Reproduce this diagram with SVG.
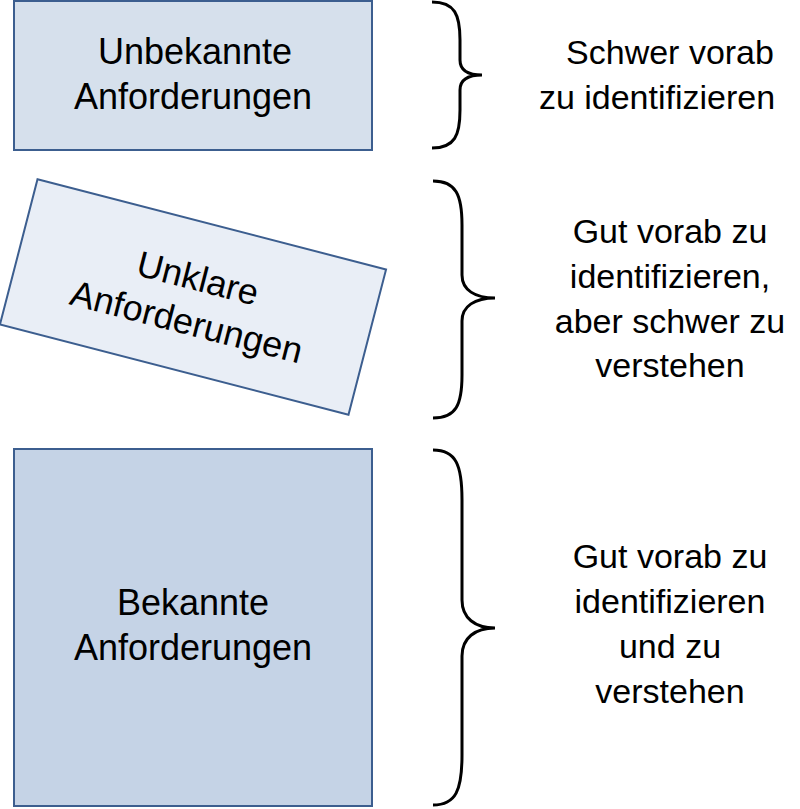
<svg xmlns="http://www.w3.org/2000/svg" width="800" height="809" viewBox="0 0 800 809">
<style>
.b{stroke:#3c5e8f;stroke-width:2}
.t{font-family:"Liberation Sans",Arial,sans-serif;font-size:34px;text-anchor:middle;fill:#000}
.n{font-size:36px}
.br{fill:none;stroke:#000;stroke-width:3}
</style>
<rect width="800" height="809" fill="#fff"/>
<g id="n1"><rect class="b" x="14" y="1" width="358" height="149" fill="#d6e0ec"/>
<text class="t n" x="195" y="64">Unbekannte</text><text class="t n" x="193" y="109">Anforderungen</text></g>
<g id="n2" transform="translate(193,297) rotate(14.5)"><rect class="b" x="-180" y="-75" width="360" height="150" fill="#e9eef6"/>
<text class="t n" x="0" y="-7">Unklare</text><text class="t n" x="0" y="38">Anforderungen</text></g>
<g id="n3"><rect class="b" x="14" y="449" width="358" height="357" fill="#c5d3e6"/>
<text class="t n" x="193" y="615">Bekannte</text><text class="t n" x="193" y="660">Anforderungen</text></g>
<g id="connectors">
<path class="br" d="M432,2 C455,2 460,15 460,40 L460,60 C460,70 468,75 482,75 C468,75 460,80 460,90 L460,110 C460,135 455,148 432,148"/>
<path class="br" d="M433,181 C456,181 462,195 462,225 L462,275 C462,290 475,298 495,298 C475,298 462,306 462,321 L462,375 C462,405 456,418 433,418"/>
<path class="br" d="M433,450 C456,450 462,465 462,500 L462,600 C462,618 475,628 495,628 C475,628 462,638 462,656 L462,755 C462,790 456,805 433,805"/>
</g>
<g id="labels">
<text class="t" x="670" y="64">Schwer vorab</text><text class="t" x="657" y="109">zu identifizieren</text>
<text class="t" x="670" y="243">Gut vorab zu</text><text class="t" x="670" y="288">identifizieren,</text><text class="t" x="670" y="333">aber schwer zu</text><text class="t" x="670" y="377">verstehen</text>
<text class="t" x="670" y="568">Gut vorab zu</text><text class="t" x="670" y="613">identifizieren</text><text class="t" x="670" y="658">und zu</text><text class="t" x="670" y="703">verstehen</text>
</g>
</svg>
